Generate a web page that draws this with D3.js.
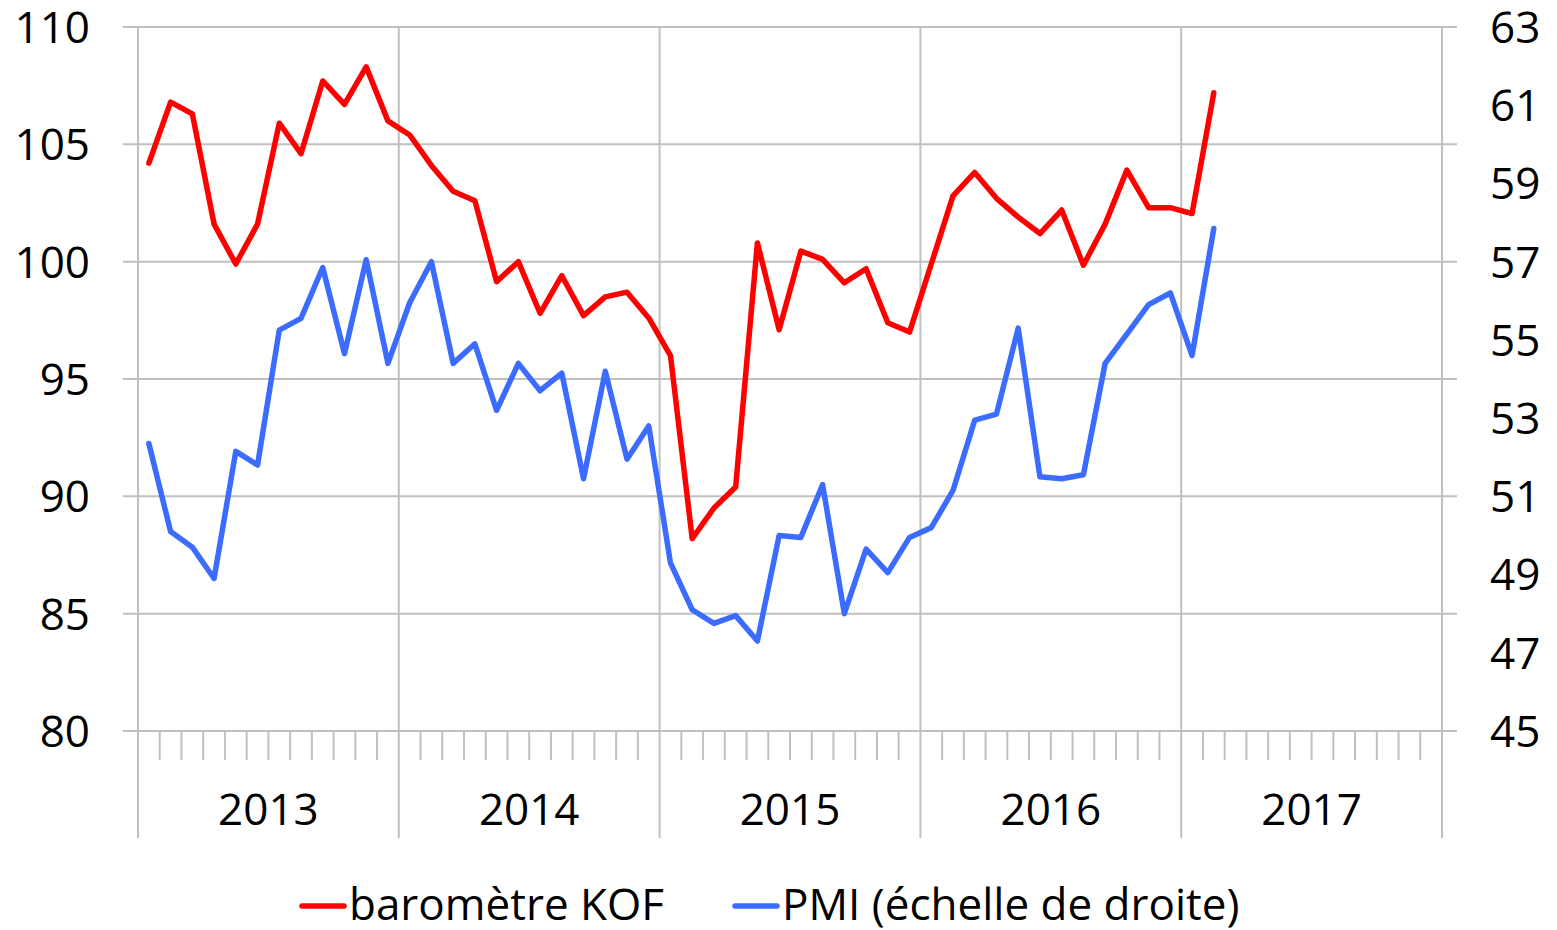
<!DOCTYPE html>
<html>
<head>
<meta charset="utf-8">
<script src="https://cdn.jsdelivr.net/npm/d3@7"></script>
<style>
  html, body { margin: 0; padding: 0; background: #fff; }
  svg { display: block; }
  text { font-family: "Open Sans", "Noto Sans", sans-serif; fill: #000; }
</style>
</head>
<body>
<svg id="chart" width="1557" height="930"></svg>
<script>
// ---- data ----
const years = ["2013", "2014", "2015", "2016", "2017"];
const monthsPerYear = 12;
// monthly observations Jan 2013 - Feb 2017
const kof = [
  104.2, 106.8, 106.3, 101.6, 99.9, 101.6, 105.9, 104.6, 107.7, 106.7, 108.3, 106.0,
  105.4, 104.1, 103.0, 102.6, 99.15, 100.0, 97.8, 99.4, 97.7, 98.5, 98.7, 97.6,
  96.0, 88.2, 89.5, 90.4, 100.8, 97.1, 100.45, 100.1, 99.1, 99.7, 97.4, 97.0,
  99.9, 102.8, 103.8, 102.7, 101.9, 101.2, 102.2, 99.85, 101.6, 103.9, 102.3, 102.3,
  102.05, 107.2
];
const pmi = [
  52.35, 50.1, 49.7, 48.9, 52.15, 51.8, 55.25, 55.55, 56.85, 54.65, 57.05, 54.4,
  55.95, 57.0, 54.4, 54.9, 53.2, 54.4, 53.7, 54.15, 51.45, 54.2, 51.95, 52.8,
  49.3, 48.1, 47.75, 47.95, 47.3, 50.0, 49.95, 51.3, 48.0, 49.65, 49.05, 49.95,
  50.2, 51.15, 52.95, 53.1, 55.3, 51.5, 51.45, 51.55, 54.4, 55.15, 55.9, 56.2,
  54.6, 57.85
];
const leftTicks = [80, 85, 90, 95, 100, 105, 110];
const rightTicks = [45, 47, 49, 51, 53, 55, 57, 59, 61, 63];
const seriesNames = ["baromètre KOF", "PMI (échelle de droite)"];
const seriesColors = ["#ff0000", "#3b6cff"];

// ---- layout ----
const L = 138, R = 1442, T = 27, B = 731;
const nMonths = years.length * monthsPerYear;
const svg = d3.select("#chart");

const x = d3.scaleLinear().domain([0, nMonths]).range([L, R]);
const yL = d3.scaleLinear().domain([80, 110]).range([B, T]);
const yR = d3.scaleLinear().domain([45, 63]).range([B, T]);

const grid = "#c0c0c0";
const fs = 44;

// horizontal gridlines (with outside tick extension)
svg.append("g").selectAll("line").data(leftTicks).join("line")
  .attr("x1", L - 15).attr("x2", R + 15)
  .attr("y1", d => yL(d)).attr("y2", d => yL(d))
  .attr("stroke", grid).attr("stroke-width", 2);

// year boundaries
const yearBounds = d3.range(years.length + 1).map(i => i * monthsPerYear);
svg.append("g").selectAll("line").data(yearBounds).join("line")
  .attr("x1", d => x(d)).attr("x2", d => x(d))
  .attr("y1", T).attr("y2", 838)
  .attr("stroke", grid).attr("stroke-width", 2);

// month minor ticks
const monthBounds = d3.range(nMonths + 1).filter(d => d % monthsPerYear !== 0);
svg.append("g").selectAll("line").data(monthBounds).join("line")
  .attr("x1", d => x(d)).attr("x2", d => x(d))
  .attr("y1", B).attr("y2", 760)
  .attr("stroke", grid).attr("stroke-width", 2);

// left axis labels
svg.append("g").selectAll("text").data(leftTicks).join("text")
  .attr("x", 90).attr("y", d => yL(d)).attr("dy", "0.36em")
  .attr("text-anchor", "end").style("font-size", fs + "px")
  .text(d => d);

// right axis labels
svg.append("g").selectAll("text").data(rightTicks).join("text")
  .attr("x", 1490).attr("y", d => yR(d)).attr("dy", "0.36em")
  .attr("text-anchor", "start").style("font-size", fs + "px")
  .text(d => d);

// year labels
svg.append("g").selectAll("text").data(years).join("text")
  .attr("x", (d, i) => x(i * monthsPerYear + monthsPerYear / 2))
  .attr("y", 825)
  .attr("text-anchor", "middle").style("font-size", fs + "px")
  .text(d => d);

// lines
const lineL = d3.line().x((d, i) => x(i + 0.5)).y(d => yL(d));
const lineR = d3.line().x((d, i) => x(i + 0.5)).y(d => yR(d));

svg.append("path").datum(pmi).attr("d", lineR)
  .attr("fill", "none").attr("stroke", seriesColors[1])
  .attr("stroke-width", 5.5).attr("stroke-linejoin", "round").attr("stroke-linecap", "round");
svg.append("path").datum(kof).attr("d", lineL)
  .attr("fill", "none").attr("stroke", seriesColors[0])
  .attr("stroke-width", 5.5).attr("stroke-linejoin", "round").attr("stroke-linecap", "round");

// legend
const legendX = [302, 735];
const lg = svg.append("g");
seriesNames.forEach((name, i) => {
  lg.append("line")
    .attr("x1", legendX[i]).attr("x2", legendX[i] + 42)
    .attr("y1", 906).attr("y2", 906)
    .attr("stroke", seriesColors[i]).attr("stroke-width", 5.5).attr("stroke-linecap", "round");
  lg.append("text")
    .attr("x", legendX[i] + 47).attr("y", 920)
    .style("font-size", fs + "px")
    .text(name);
});
</script>
</body>
</html>
